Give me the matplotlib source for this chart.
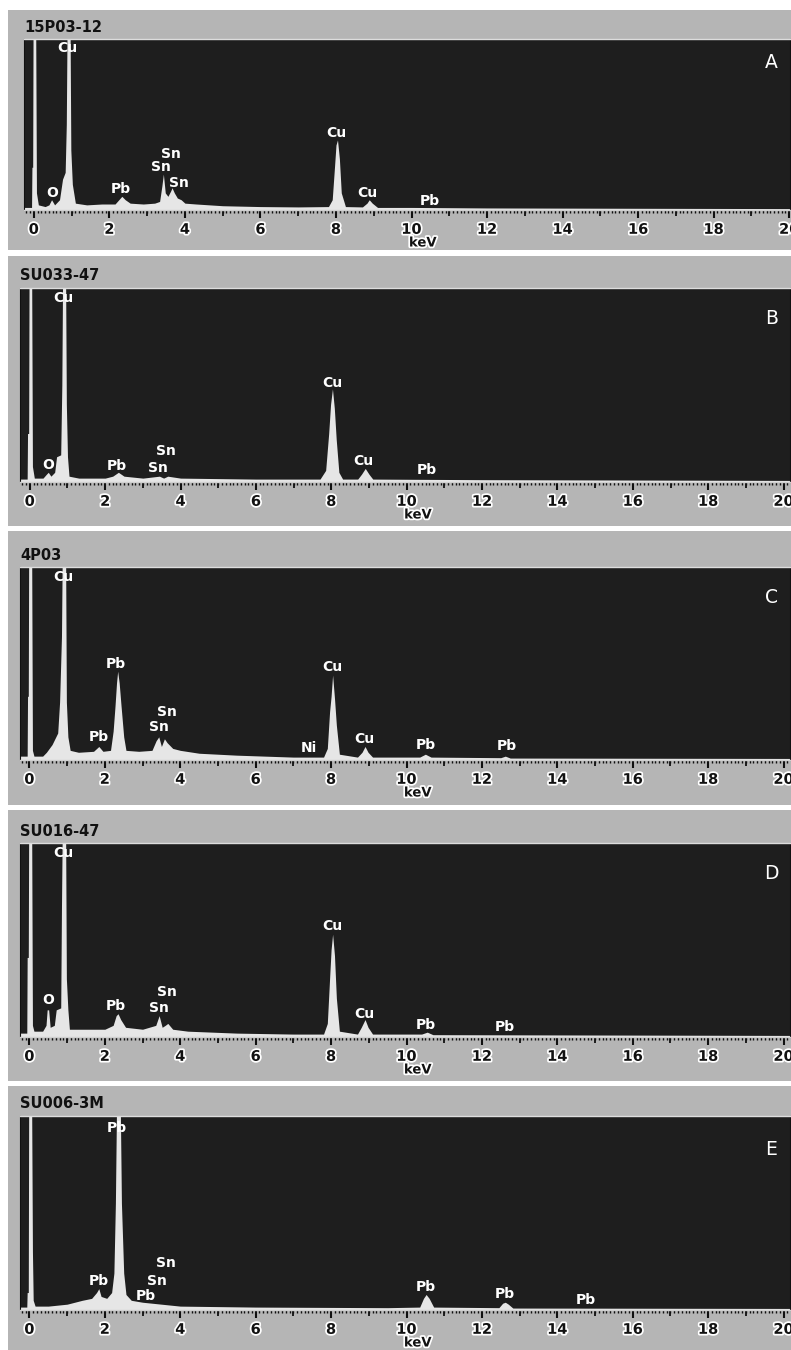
import matplotlib
matplotlib.use("Agg")
import matplotlib.pyplot as plt
import matplotlib.patheffects as pe
from matplotlib.patches import Rectangle
from matplotlib.ticker import MultipleLocator

# EDS spectra: (keV, intensity as fraction of panel height)
spec_a = [(-0.30, 0.015), (-0.06, 0.015), (-0.05, 0.25), (-0.03, 0.25), (-0.02, 1.05), (0.05, 1.05),
          (0.07, 0.10), (0.12, 0.03), (0.30, 0.02), (0.40, 0.03), (0.47, 0.06), (0.55, 0.03),
          (0.68, 0.06), (0.76, 0.18), (0.83, 0.22), (0.86, 0.50), (0.88, 1.05), (0.96, 1.05),
          (0.98, 0.35), (1.02, 0.15), (1.10, 0.04), (1.40, 0.03), (1.80, 0.035), (2.15, 0.035),
          (2.25, 0.06), (2.33, 0.08), (2.42, 0.06), (2.55, 0.04), (2.90, 0.035), (3.20, 0.04),
          (3.33, 0.05), (3.39, 0.14), (3.43, 0.21), (3.48, 0.10), (3.55, 0.08), (3.62, 0.11),
          (3.66, 0.13), (3.72, 0.10), (3.80, 0.07), (3.90, 0.06), (4.00, 0.04), (4.30, 0.035),
          (5.00, 0.025), (6.00, 0.02), (7.00, 0.018), (7.80, 0.02), (7.90, 0.06), (7.96, 0.25),
          (8.00, 0.38), (8.04, 0.41), (8.09, 0.30), (8.14, 0.10), (8.25, 0.02), (8.70, 0.018),
          (8.82, 0.04), (8.88, 0.06), (8.96, 0.04), (9.10, 0.015), (10.0, 0.015), (12.0, 0.012),
          (16.0, 0.01), (20.5, 0.008)]

spec_b = [(-0.30, 0.015), (-0.07, 0.015), (-0.06, 0.25), (-0.03, 0.25), (-0.02, 1.05), (0.05, 1.05),
          (0.07, 0.08), (0.12, 0.02), (0.35, 0.02), (0.44, 0.04), (0.49, 0.05), (0.56, 0.03),
          (0.66, 0.05), (0.71, 0.13), (0.82, 0.14), (0.85, 0.50), (0.87, 1.05), (0.95, 1.05),
          (0.97, 0.40), (1.00, 0.13), (1.04, 0.03), (1.30, 0.02), (2.00, 0.02), (2.20, 0.03),
          (2.35, 0.05), (2.50, 0.03), (3.00, 0.02), (3.44, 0.03), (3.55, 0.02), (3.66, 0.03),
          (4.00, 0.02), (6.00, 0.015), (7.70, 0.015), (7.85, 0.06), (7.93, 0.25), (7.98, 0.40),
          (8.03, 0.48), (8.08, 0.38), (8.13, 0.22), (8.20, 0.05), (8.30, 0.015), (8.70, 0.015),
          (8.80, 0.04), (8.90, 0.07), (9.00, 0.04), (9.10, 0.015), (12.0, 0.012), (20.5, 0.008)]

spec_c = [(-0.30, 0.02), (-0.06, 0.02), (-0.05, 0.33), (-0.03, 0.33), (-0.02, 1.05), (0.06, 1.05),
          (0.08, 0.05), (0.12, 0.02), (0.35, 0.02), (0.45, 0.04), (0.60, 0.08), (0.75, 0.14),
          (0.80, 0.30), (0.85, 0.64), (0.87, 1.05), (0.96, 1.05), (0.98, 0.30), (1.02, 0.12),
          (1.08, 0.05), (1.30, 0.04), (1.70, 0.045), (1.84, 0.07), (1.95, 0.045), (2.15, 0.05),
          (2.22, 0.15), (2.27, 0.28), (2.31, 0.40), (2.34, 0.46), (2.38, 0.40), (2.43, 0.28),
          (2.50, 0.12), (2.56, 0.05), (2.90, 0.045), (3.25, 0.05), (3.36, 0.10), (3.43, 0.12),
          (3.50, 0.07), (3.58, 0.11), (3.65, 0.09), (3.80, 0.06), (4.00, 0.05), (4.50, 0.035),
          (5.50, 0.025), (7.00, 0.015), (7.80, 0.015), (7.90, 0.06), (7.96, 0.25), (8.00, 0.33),
          (8.04, 0.44), (8.09, 0.32), (8.14, 0.18), (8.22, 0.03), (8.70, 0.015), (8.82, 0.04),
          (8.90, 0.07), (8.98, 0.04), (9.10, 0.015), (10.35, 0.015), (10.50, 0.03), (10.65, 0.015),
          (12.50, 0.012), (12.62, 0.02), (12.75, 0.01), (20.5, 0.008)]

spec_d = [(-0.30, 0.02), (-0.07, 0.02), (-0.06, 0.41), (-0.03, 0.41), (-0.02, 1.05), (0.06, 1.05),
          (0.08, 0.06), (0.12, 0.03), (0.35, 0.03), (0.44, 0.06), (0.47, 0.14), (0.51, 0.14),
          (0.55, 0.05), (0.66, 0.06), (0.71, 0.14), (0.83, 0.15), (0.85, 0.67), (0.87, 1.05),
          (0.96, 1.05), (0.98, 0.30), (1.02, 0.14), (1.06, 0.04), (1.50, 0.04), (2.00, 0.04),
          (2.22, 0.06), (2.30, 0.11), (2.35, 0.12), (2.42, 0.09), (2.55, 0.05), (3.00, 0.04),
          (3.35, 0.06), (3.44, 0.11), (3.52, 0.05), (3.60, 0.06), (3.67, 0.07), (3.80, 0.04),
          (4.20, 0.03), (5.50, 0.02), (7.00, 0.015), (7.80, 0.015), (7.90, 0.07), (7.96, 0.30),
          (8.00, 0.45), (8.04, 0.53), (8.09, 0.42), (8.14, 0.20), (8.22, 0.03), (8.70, 0.015),
          (8.80, 0.05), (8.90, 0.09), (8.98, 0.05), (9.10, 0.015), (10.40, 0.015), (10.55, 0.025),
          (10.70, 0.012), (20.5, 0.008)]

spec_e = [(-0.30, 0.015), (-0.07, 0.015), (-0.06, 0.09), (-0.03, 0.09), (-0.02, 1.02), (0.06, 1.02),
          (0.08, 0.30), (0.10, 0.05), (0.15, 0.02), (0.50, 0.02), (1.00, 0.03), (1.40, 0.05),
          (1.65, 0.06), (1.78, 0.09), (1.84, 0.11), (1.90, 0.07), (2.05, 0.06), (2.18, 0.09),
          (2.24, 0.19), (2.28, 0.55), (2.31, 1.05), (2.41, 1.05), (2.44, 0.55), (2.50, 0.19),
          (2.56, 0.08), (2.70, 0.05), (3.00, 0.04), (3.50, 0.03), (4.00, 0.02), (6.00, 0.015),
          (9.50, 0.012), (10.35, 0.015), (10.45, 0.06), (10.52, 0.08), (10.60, 0.06), (10.72, 0.015),
          (12.45, 0.012), (12.55, 0.035), (12.62, 0.04), (12.70, 0.03), (12.82, 0.01), (20.5, 0.008)]

# peak labels: (element, keV, height fraction)
labels_a = [("Cu", 0.89, 0.95), ("O", 0.48, 0.10), ("Pb", 2.30, 0.12), ("Sn", 3.63, 0.33),
            ("Sn", 3.37, 0.25), ("Sn", 3.84, 0.16), ("Cu", 8.00, 0.45), ("Cu", 8.84, 0.10),
            ("Pb", 10.49, 0.05)]
labels_b = [("Cu", 0.90, 0.95), ("O", 0.48, 0.09), ("Pb", 2.30, 0.08), ("Sn", 3.41, 0.07),
            ("Sn", 3.62, 0.16), ("Cu", 8.02, 0.51), ("Cu", 8.86, 0.11), ("Pb", 10.53, 0.06)]
labels_c = [("Cu", 0.90, 0.95), ("Pb", 1.84, 0.12), ("Pb", 2.30, 0.50), ("Sn", 3.43, 0.17),
            ("Sn", 3.64, 0.25), ("Ni", 7.41, 0.06), ("Cu", 8.04, 0.48), ("Cu", 8.89, 0.11),
            ("Pb", 10.52, 0.08), ("Pb", 12.65, 0.07)]
labels_d = [("Cu", 0.90, 0.95), ("O", 0.49, 0.19), ("Pb", 2.30, 0.16), ("Sn", 3.43, 0.15),
            ("Sn", 3.64, 0.23), ("Cu", 8.04, 0.57), ("Cu", 8.89, 0.12), ("Pb", 10.52, 0.06),
            ("Pb", 12.60, 0.05)]
labels_e = [("Pb", 2.31, 0.94), ("Pb", 1.84, 0.15), ("Pb", 3.09, 0.07), ("Sn", 3.39, 0.15),
            ("Sn", 3.61, 0.24), ("Pb", 10.52, 0.12), ("Pb", 12.60, 0.08), ("Pb", 14.75, 0.05)]

titles = ["15P03-12", "SU033-47", "4P03", "SU016-47", "SU006-3M"]
letters = ["A", "B", "C", "D", "E"]
spectra = [spec_a, spec_b, spec_c, spec_d, spec_e]
peak_labels = [labels_a, labels_b, labels_c, labels_d, labels_e]
odd_ticks = list(range(1, 20, 2))

# layout in pixels: gray panel (top, bottom), dark plot (left, top, bottom)
W, H = 791, 1350
panel_box = [(10, 250), (256, 526), (531, 805), (810, 1081), (1086, 1350)]
plot_box = [(24, 39, 210), (20, 288, 482), (20, 567, 760), (20, 843, 1037), (20, 1116, 1310)]
xlims = [(-0.26, 20.02), (-0.26, 20.17), (-0.25, 20.17), (-0.25, 20.17), (-0.25, 20.17)]
letter_y = [0.865, 0.845, 0.84, 0.845, 0.825]

GRAY = "#b5b5b5"
DARK = "#1e1e1e"
FILL = "#e6e6e6"
INK = "#111111"

fig = plt.figure(figsize=(W / 100, H / 100), dpi=100)
fig.patch.set_facecolor("white")

halo = [pe.withStroke(linewidth=2.5, foreground="white")]

for i in range(5):
    ptop, pbot = panel_box[i]
    fig.add_artist(Rectangle((8 / W, 1 - pbot / H), (W - 8) / W, (pbot - ptop) / H,
                             transform=fig.transFigure, facecolor=GRAY, edgecolor="none", zorder=0))
    left, top, bottom = plot_box[i]
    ax = fig.add_axes([left / W, 1 - bottom / H, (790 - left) / W, (bottom - top) / H])
    ax.set_facecolor(DARK)

    kev = [p[0] for p in spectra[i]]
    cnt = [p[1] for p in spectra[i]]
    ax.fill_between(kev, 0, cnt, color=FILL, lw=0, zorder=2)
    ax.set_xlim(*xlims[i])
    ax.set_ylim(0, 1)

    for name, x, y in peak_labels[i]:
        ax.text(x, y, name, color="white", fontsize=10, fontweight="bold",
                ha="center", va="center", zorder=3)

    ax.text(0.976, letter_y[i], letters[i], transform=ax.transAxes, color="white",
            fontsize=13.5, ha="center", va="center")

    # title in the gray strip
    fig.text(left / W, 1 - (top - 12) / H, titles[i], fontsize=10.5, fontweight="bold",
             color=INK, ha="left", va="center")

    ax.set_yticks([])
    ax.xaxis.set_major_locator(MultipleLocator(2))
    ax.xaxis.set_minor_locator(MultipleLocator(0.1))
    ax.tick_params(axis="x", which="major", direction="out", length=6, width=1.5,
                   color=INK, labelsize=10.5, pad=2.5, labelcolor=INK)
    ax.tick_params(axis="x", which="minor", direction="out", length=2.2, width=1, color=INK)
    for lab in ax.get_xticklabels():
        lab.set_fontweight("bold")
        lab.set_path_effects(halo)

    sec = ax.secondary_xaxis("bottom")
    sec.set_xticks(odd_ticks)
    sec.tick_params(length=4, width=1.3, color=INK, labelbottom=False)
    sec.spines["bottom"].set_visible(False)

    for side in ["left", "right"]:
        ax.spines[side].set_color("#111111")
    ax.spines["top"].set_color("#dddddd")
    ax.spines["top"].set_linewidth(1)
    ax.spines["bottom"].set_color("#d0d0d0")
    ax.spines["bottom"].set_linewidth(1)

    h = bottom - top
    ax.text(10.3, -33 / h, "keV", fontsize=9.5, fontweight="bold", color=INK,
            ha="center", va="center", path_effects=halo, clip_on=False)

fig.savefig("out.png", dpi=100, facecolor="white")
